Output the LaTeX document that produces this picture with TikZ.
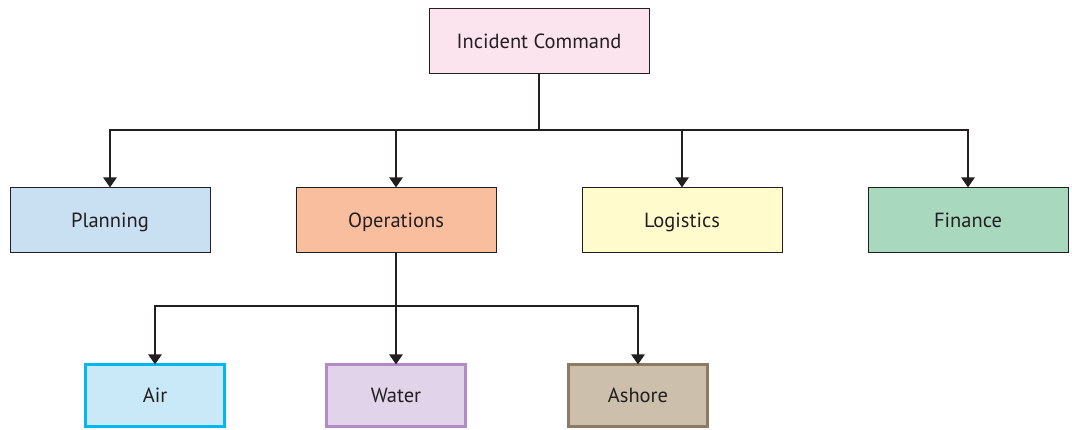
\documentclass[tikz,border=0pt]{standalone}
\usepackage{fontspec}
\setmainfont{PT Sans}
\usetikzlibrary{arrows.meta}
\definecolor{icfill}{HTML}{FCE4EE}
\definecolor{planfill}{HTML}{C9DFF2}
\definecolor{opsfill}{HTML}{F8BE9D}
\definecolor{logfill}{HTML}{FFFBCD}
\definecolor{finfill}{HTML}{A8D8BE}
\definecolor{airfill}{HTML}{C9E9F8}
\definecolor{airline}{HTML}{00B8EE}
\definecolor{watfill}{HTML}{E1D3E9}
\definecolor{watline}{HTML}{B38AC3}
\definecolor{ashfill}{HTML}{CCC0AD}
\definecolor{ashline}{HTML}{8B7B63}
\definecolor{linegray}{HTML}{231F20}
\tikzset{
  box/.style={draw=linegray, line width=1pt, minimum height=65pt, inner sep=0pt, font=\fontsize{20.5}{23}\selectfont, text=linegray, text height=16pt, text depth=2pt},
  bigbox/.style={box, minimum width=200pt},
  smallbox/.style={box, line width=3pt, minimum width=139pt, minimum height=62pt},
  conn/.style={draw=linegray, line width=2.4pt},
  arr/.style={conn, -{Triangle[width=13pt,length=10pt]}}
}
\begin{document}
\begin{tikzpicture}[x=1pt,y=-1pt]
\useasboundingbox (0,0) rectangle (1072,430);
\node[box, minimum width=220pt, fill=icfill] (ic) at (539,41.5) {Incident Command};
\node[bigbox, fill=planfill] (plan) at (110,220.5) {Planning};
\node[bigbox, fill=opsfill] (ops) at (396,220.5) {Operations};
\node[bigbox, fill=logfill] (log) at (682,220.5) {Logistics};
\node[bigbox, fill=finfill] (fin) at (968,220.5) {Finance};
\node[smallbox, fill=airfill, draw=airline] (air) at (155,395.5) {Air};
\node[smallbox, fill=watfill, draw=watline] (wat) at (396,395.5) {Water};
\node[smallbox, fill=ashfill, draw=ashline] (ash) at (638,395.5) {Ashore};
\coordinate (j1) at (539,130);
\coordinate (j2) at (396,306);
\draw[conn] (ic.south) -- (j1);
\draw[arr] (j1) -| (plan.north);
\draw[arr] (j1) -| (ops.north);
\draw[arr] (j1) -| (log.north);
\draw[arr] (j1) -| (fin.north);
\draw[conn] (ops.south) -- (j2);
\draw[arr] (j2) -| ([yshift=-1.5pt]air.north);
\draw[arr] (j2) -- ([yshift=-1.5pt]wat.north);
\draw[arr] (j2) -| ([yshift=-1.5pt]ash.north);
\end{tikzpicture}
\end{document}
